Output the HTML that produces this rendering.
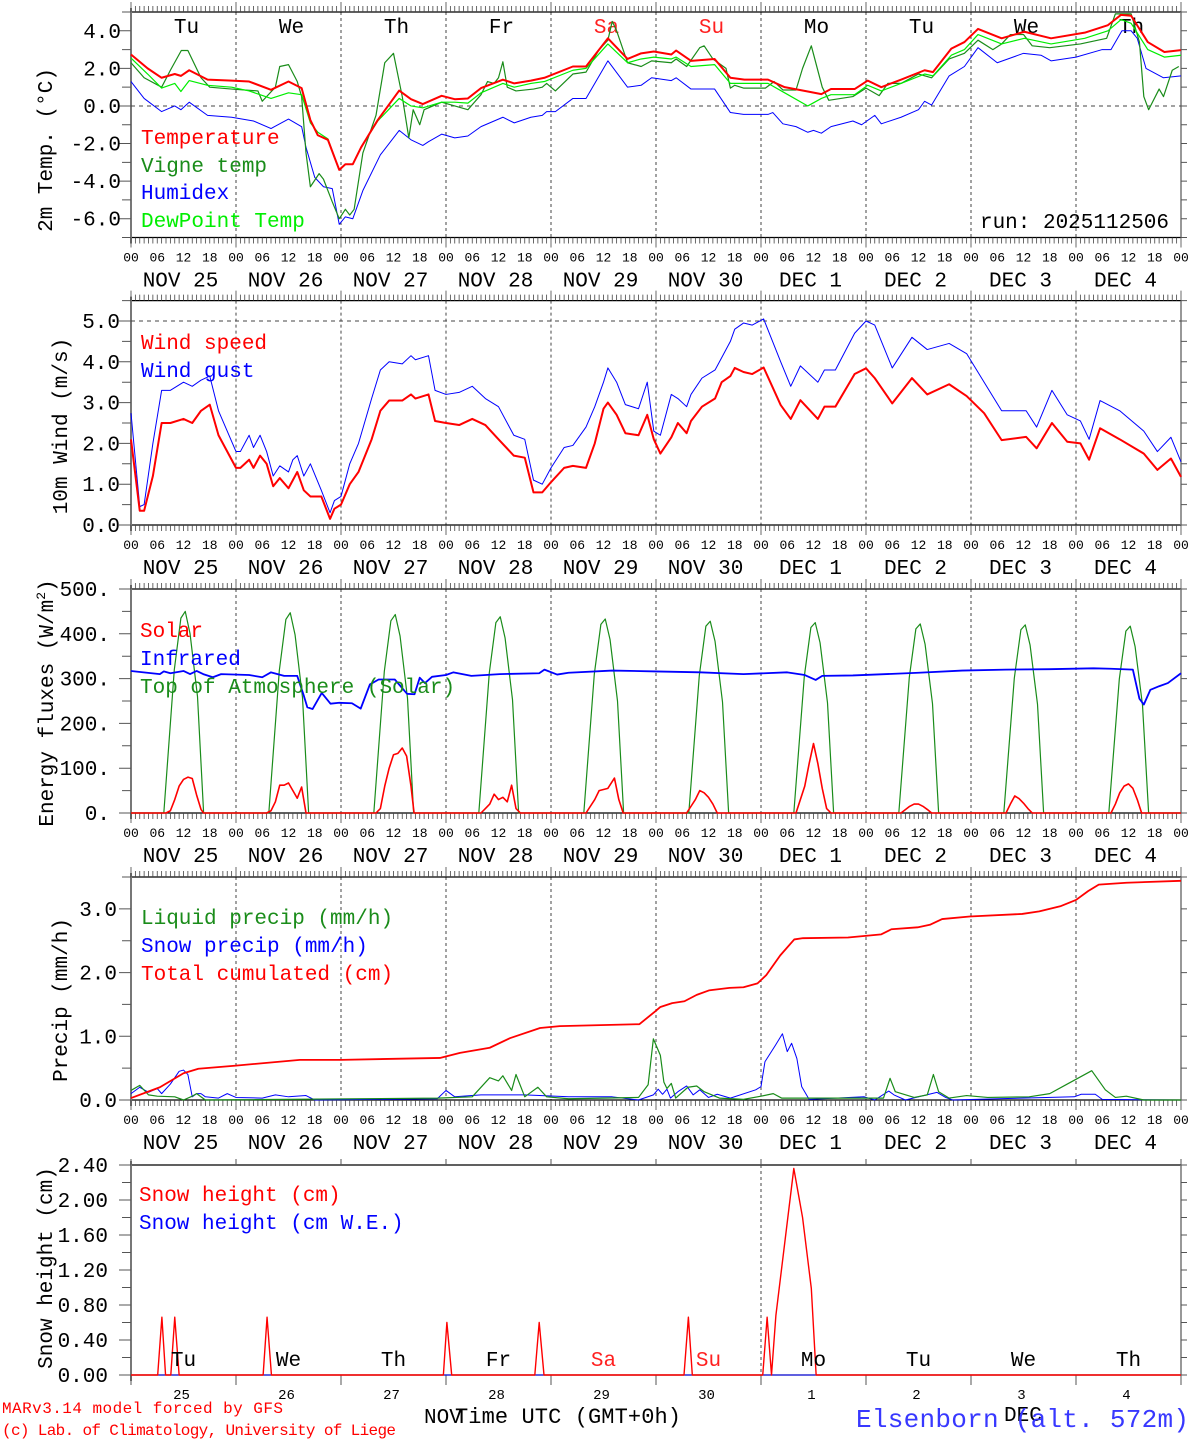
<!DOCTYPE html>
<html>
<head>
<meta charset="utf-8">
<style>
html,body{margin:0;padding:0;background:#fff;}
svg{display:block;}
text{font-family:"Liberation Mono","DejaVu Sans Mono",monospace;}
</style>
</head>
<body>
<svg id="chart" xmlns="http://www.w3.org/2000/svg" width="1194" height="1440" viewBox="0 0 1194 1440">
<rect x="0" y="0" width="1194" height="1440" fill="#fff"/>
</svg>
<script>
// ---------- data (hours since NOV 25 00 UTC) ----------
const dayLabels = ["NOV 25","NOV 26","NOV 27","NOV 28","NOV 29","NOV 30","DEC  1","DEC  2","DEC  3","DEC  4"];
const dayNames = ["Tu","We","Th","Fr","Sa","Su","Mo","Tu","We","Th"];
const dayNums = ["25","26","27","28","29","30","1","2","3","4"];

const tempHours = [0,3.8,7,10,11.4,13.3,17.5,23,27,32,36,39,41,42.7,45,47.6,49,50.7,52.6,56.4,61.3,64,66.7,71,74,77,80,85,87.6,91.4,94.5,101,104,109,113.5,116.6,119.5,123.5,124.6,128,133.4,137,140.2,145.6,149.4,154.7,157.8,160,165.4,168.4,171.5,176,181.4,183.3,187.5,190.5,193.6,199,204.2,210.3,218,223.3,226.3,228.6,232.4,236.2,240];
const tempVals = [2.74,2.0,1.5,1.7,1.6,1.9,1.4,1.35,1.3,0.86,1.3,0.95,-0.75,-1.56,-1.8,-3.4,-3.1,-3.1,-2.2,-0.75,0.82,0.36,0.1,0.54,0.36,0.4,0.95,1.4,1.2,1.35,1.5,2.1,2.1,3.6,2.5,2.8,2.9,2.74,2.95,2.4,2.5,1.5,1.4,1.4,1.0,0.77,0.63,0.9,0.9,1.35,1.0,1.4,1.9,1.8,3.05,3.4,4.1,3.6,3.95,3.6,3.9,4.3,4.85,4.8,3.4,2.87,2.97];
const dewVals = [2.55,1.7,0.95,1.2,0.77,1.35,1.1,1.0,0.8,0.4,0.7,0.6,-0.9,-1.4,-1.75,-3.4,-3.1,-3.1,-2.2,-0.8,0.4,0.0,-0.1,0.2,0.2,0.15,0.7,1.2,1.0,1.2,1.3,1.9,2.0,3.3,2.3,2.5,2.6,2.5,2.6,2.1,2.2,1.2,1.2,1.2,0.7,0.0,0.4,0.6,0.6,1.1,0.8,1.2,1.7,1.6,2.7,3.0,3.8,3.3,3.6,3.3,3.6,4.0,4.6,4.4,3.0,2.6,2.7];
const vigneHours = [0,3,7,9,11.5,13,16,18,23,29,30,33,34,36,38,39,40,41,43,44,46,47.6,49,50,51,53,56,58,60,62,63.5,64.5,66,67,71,74,77,80,81.5,83,84,85,86,88,92,94,95,97,101,104,107,109,110,111,113.5,116.6,119,123.5,124.6,127,130,131,133,136,137,138,140,145,147,149,152,153.5,155.5,158,159.5,165,168,171,173,176,180,183,187,190.5,193.6,197,199,201,204,206,210,217,223,225,228.6,230.5,231.5,232.6,235,236,238,239.5];
const vigneVals = [2.3,1.5,1.0,1.9,2.95,2.95,1.5,1.0,0.9,0.8,0.25,1.0,2.1,2.2,1.3,0.5,-2.5,-4.3,-3.6,-3.9,-5.1,-6.0,-5.5,-5.8,-5.5,-2.5,-0.5,2.3,2.8,0.5,-1.7,-0.2,-1.0,-0.2,0.2,0.0,-0.2,0.6,1.3,1.2,1.5,2.35,1.0,0.8,0.9,1.0,1.2,0.8,1.7,1.8,3.0,3.5,4.5,4.0,2.3,2.1,2.4,2.3,2.5,2.1,3.1,3.2,2.5,2.0,0.95,1.1,0.95,0.95,1.3,0.85,0.85,2.0,3.2,1.0,0.3,0.5,0.95,0.55,1.2,1.2,1.7,1.5,2.5,2.8,3.5,3.0,3.3,3.8,3.8,3.2,3.1,3.3,3.6,4.9,4.9,3.4,0.5,-0.2,0.9,0.5,1.9,2.1];
const humHours = [0,3,7,10,11.4,13.3,17.5,23,28,32,36,39,40,42,44,46,47.6,49,50.7,53,57,61.3,64,66.7,68,71,74,77,80,85,87.6,91.4,94,95,97,101,104,109,113.5,116.6,119,123.5,124.6,128,131,133.4,137,140,145.6,146.7,149,152,154.7,156,157.8,160,165,167,170,171.5,176,180,181.4,183,187,190.5,193.6,198,204,208,210.3,216,222,224,226.5,228.6,230,232,236,240];
const humVals = [1.3,0.4,-0.3,0.0,-0.2,0.2,-0.5,-0.6,-0.8,-1.2,-0.7,-1.1,-2.2,-3.8,-4.3,-4.4,-6.3,-5.9,-6.0,-4.5,-2.6,-1.3,-1.8,-2.1,-1.9,-1.5,-1.7,-1.6,-1.1,-0.6,-0.9,-0.6,-0.5,-0.3,-0.3,0.4,0.4,2.4,1.0,1.1,1.5,1.35,1.5,0.9,0.9,0.9,-0.35,-0.45,-0.45,-0.35,-0.95,-1.1,-1.4,-1.3,-1.45,-1.1,-0.8,-1.0,-0.5,-0.95,-0.6,-0.2,0.25,0.05,1.6,2.1,3.1,2.3,2.8,2.7,2.4,2.6,3.0,3.0,4.0,4.0,3.6,2.0,1.5,1.6];

const windHours = [0,2,3,5,7,9,12,14,16,18,20,24,25,27,28,29.5,31,32.5,34,36,37,38,39.5,41,43.5,45.5,46.5,48,50,52,55,57,59,62,64,65,68,69.5,72,75,78,81,84,87.5,90,92,94,96,99,101,104,106,108,109,111,113,116,118,119.5,121,123.5,125,127,128,130.5,133.5,135,137,138,140,142,144.6,148.5,150.8,153,157,158.5,161,165.4,168,170,174,178.5,182,187,191,195,199,204.6,207,210.5,214,217,219,221.5,226,231.5,234.6,237.7,240];
const windSpeed = [2.1,0.35,0.35,1.2,2.5,2.5,2.6,2.5,2.8,2.95,2.2,1.4,1.4,1.6,1.4,1.7,1.5,0.95,1.15,0.9,1.1,1.3,0.85,0.7,0.7,0.15,0.4,0.5,1.0,1.3,2.1,2.8,3.05,3.05,3.2,3.1,3.2,2.55,2.5,2.45,2.6,2.45,2.1,1.7,1.65,0.8,0.8,1.05,1.4,1.45,1.4,2.0,2.85,3.0,2.7,2.25,2.2,2.7,2.1,1.75,2.15,2.5,2.25,2.55,2.9,3.1,3.5,3.65,3.85,3.75,3.7,3.86,2.94,2.6,3.06,2.6,2.9,2.9,3.7,3.84,3.6,2.98,3.6,3.2,3.45,3.16,2.74,2.08,2.16,1.88,2.5,2.04,2.0,1.6,2.37,2.1,1.75,1.35,1.63,1.18];
const windGust = [2.74,0.45,0.5,2.0,3.3,3.3,3.5,3.4,3.55,3.65,2.8,1.8,1.8,2.2,1.9,2.2,1.8,1.2,1.45,1.3,1.6,1.7,1.2,1.5,0.85,0.3,0.6,0.7,1.5,2.0,3.1,3.8,4.0,3.95,4.15,4.05,4.15,3.3,3.2,3.25,3.4,3.1,2.9,2.2,2.1,1.1,1.0,1.4,1.9,1.95,2.4,2.9,3.5,3.85,3.5,2.95,2.85,3.5,2.3,2.2,3.2,3.1,2.9,3.2,3.6,3.8,4.1,4.5,4.8,4.95,4.9,5.05,4.0,3.4,3.9,3.5,3.8,3.8,4.7,5.0,4.9,3.85,4.6,4.3,4.45,4.2,3.5,2.8,2.8,2.4,3.3,2.7,2.55,2.1,3.05,2.8,2.3,1.8,2.15,1.55];

const solarHours = [0,8,9,10,11,12,13,14,15,16,16.6,31,32,33,34,35,36,37,38,39,40,56,57,58,59,60,61,62,63,64,64.7,80,81,82,83,84,85,86,87,88,89,104,106,107,109,110.5,111.5,112.5,127,129,130,131,132,133,134,152,154,155,156,157,158,159,160,176,178,179,180,181,182,183,200,201,202,203,204,205,206,224,225,226,227,228,229,230,231,240];
const solarVals = [0,0,5,30,60,75,80,77,40,8,0,0,5,25,62,62,67,50,33,58,0,0,10,60,100,130,133,145,127,60,0,0,10,20,42,30,35,25,62,10,0,0,30,50,55,78,30,0,0,30,50,45,35,20,0,0,60,110,155,110,55,10,0,0,15,20,20,15,8,0,0,20,38,32,22,10,0,0,20,45,60,65,55,30,0,0];
const irHours = [0,6.6,7.5,9,12,13.5,15,16.5,18.7,20.6,27,30,32,35,38,39.4,40.3,41.5,43.6,45.6,47.6,50.5,52.5,54.6,56.6,60.3,63.1,64.8,66,67.2,68.8,72,73.7,77.8,84.3,93.3,94.5,97.4,100,110,120,130,140,150,154,156.5,158,165,170,180,190,200,210,220,224,229,230.5,231.5,233,235,237,240];
const irVals = [317,310,316,312,317,310,317,310,303,310,308,303,314,306,306,265,236,232,268,244,246,245,233,287,298,298,266,265,302,290,304,308,314,306,310,312,320,309,313,318,316,314,310,314,308,297,306,307,309,313,318,320,321,323,322,320,255,242,275,283,290,312];
const toaHours = [0,7.5,9.9,11.4,12.4,13.5,15.2,16.6,31.5,33.9,35.4,36.4,37.5,39.2,40.6,55.5,57.9,59.4,60.4,61.5,63.2,64.6,79.5,81.9,83.4,84.4,85.5,87.2,88.6,103.5,105.9,107.4,108.4,109.5,111.2,112.6,127.5,129.9,131.4,132.4,133.5,135.2,136.6,151.5,153.9,155.4,156.4,157.5,159.2,160.6,175.5,177.9,179.4,180.4,181.5,183.2,184.6,199.5,201.9,203.4,204.4,205.5,207.2,208.6,223.5,225.9,227.4,228.4,229.5,231.2,232.6,240];
const toaVals = [0,0,320,435,450,400,260,0,0,318,432,447,398,258,0,0,316,429,443,395,256,0,0,313,425,438,391,253,0,0,310,421,433,387,250,0,0,307,417,428,383,248,0,0,305,414,425,380,246,0,0,303,411,422,377,244,0,0,301,409,420,375,243,0,0,299,406,417,372,241,0,0];

const liqHours = [0,2,4,6,10,12,14,15,17,70,78,82,84,85,87,88,90,93,95,100,116,118.2,119.4,121,121.8,122.5,123.5,124.5,127.3,129.3,131,134.5,140,144,146.8,148.7,172,173.5,174.7,179,182,183.4,184.6,187,191,195.8,205.3,210,214,219.6,222.7,225,227.5,231.5,240];
const liqVals = [0.15,0.23,0.08,0.06,0.05,0.0,0.06,0.1,0.0,0.03,0.05,0.35,0.3,0.38,0.15,0.4,0.05,0.2,0.05,0.02,0.04,0.24,0.96,0.7,0.28,0.18,0.26,0.03,0.2,0.22,0.13,0.03,0.01,0.06,0.1,0.03,0.03,0.34,0.13,0.04,0.08,0.4,0.13,0.03,0.07,0.04,0.05,0.1,0.25,0.46,0.16,0.04,0.06,0.0,0.0];
const snowPHours = [0,2,4,6,7,9,11,12,13,14,15,16,17,20,22,24,30,33,36,40,42,70,72,74,80,90,100,110,116,119.4,120.5,121.5,122.5,123.3,125,127,128.5,130,132,134,137,142.8,144,144.9,147.3,148.9,150,151,152.2,153.3,155,167.6,170,173.2,174.4,177,184.2,186.2,187.8,209.2,215.6,217.2,220.4,222,240];
const snowPVals = [0.1,0.2,0.12,0.18,0.1,0.25,0.45,0.47,0.4,0.05,0.1,0.1,0.05,0.03,0.1,0.04,0.03,0.08,0.05,0.07,0.0,0.02,0.15,0.05,0.08,0.08,0.05,0.05,0.0,0.08,0.17,0.09,0.17,0.03,0.13,0.22,0.08,0.16,0.04,0.09,0.03,0.16,0.21,0.6,0.86,1.04,0.76,0.89,0.65,0.21,0.01,0.05,0.0,0.14,0.08,0.0,0.12,0.04,0.0,0.04,0.05,0.09,0.09,0.01,0.0];
const cumHours = [0,6.6,12,15.4,24,38.6,48,70.6,75.2,82,86.6,93.5,98,116.2,119.8,121,123.7,126.5,129.3,132.1,136.8,140,143.2,145.2,148.4,151.6,153.6,163.9,171.5,173.8,179.8,182.6,185.4,191.7,203.7,207.6,212.4,216,218.8,221.2,227.5,240];
const cumVals = [0.03,0.2,0.42,0.49,0.54,0.63,0.63,0.66,0.74,0.82,0.97,1.13,1.16,1.19,1.39,1.46,1.52,1.55,1.65,1.72,1.76,1.77,1.83,1.96,2.27,2.52,2.54,2.55,2.6,2.68,2.71,2.75,2.84,2.88,2.92,2.96,3.04,3.14,3.28,3.38,3.41,3.44];

const snowHours = [0,6.1,7.06,7.9,9.1,10,11,30.2,31.1,32.1,71.4,72.2,73.3,92.3,93.3,94.4,126.4,127.4,128.3,144.4,145.4,146.4,147.4,151.5,153.5,155.5,156.6,240];
const snowVals = [0,0,0.66,0,0,0.66,0,0,0.66,0,0,0.6,0,0,0.6,0,0,0.66,0,0,0.66,0,0.68,2.36,1.8,0.99,0,0];
const snowWEVals = [0,0,0,0,0,0,0,0,0,0,0,0,0,0,0,0,0,0,0,0,0,0,0,0,0,0,0,0];

const p1Ticks = [-6,-4,-2,0,2,4];
const p1TickLabels = ["-6.0","-4.0","-2.0","0.0","2.0","4.0"];
const p2Ticks = [0,1,2,3,4,5];
const p2TickLabels = ["0.0","1.0","2.0","3.0","4.0","5.0"];
const p3Ticks = [0,100,200,300,400,500];
const p3TickLabels = ["0.","100.","200.","300.","400.","500."];
const p4Ticks = [0,1,2,3];
const p4TickLabels = ["0.0","1.0","2.0","3.0"];
const p5Ticks = [0,0.4,0.8,1.2,1.6,2.0,2.4];
const p5TickLabels = ["0.00","0.40","0.80","1.20","1.60","2.00","2.40"];

// ---------- drawing ----------
const NS = "http://www.w3.org/2000/svg";
const svg = document.getElementById("chart");
const X0 = 131, X1 = 1181, HOURS = 240;
function xs(h){ return X0 + h * (X1 - X0) / HOURS; }
function ysc(p, v){ return p.bot - (v - p.min) / (p.max - p.min) * (p.bot - p.top); }

function mk(tag, attrs, name){
  const el = document.createElementNS(NS, tag);
  for (const k in attrs) el.setAttribute(k, attrs[k]);
  
  
  svg.appendChild(el);
  return el;
}
function txt(x, y, s, size, color, anchor, name, extra){
  const a = {x:x, y:y, 'font-size':size, fill:color, 'text-anchor':anchor||'start'};
  if (extra) for (const k in extra) a[k] = extra[k];
  const el = mk('text', a, name);
  el.textContent = s;
  return el;
}
function series(p, hours, vals, color, w, name){
  let d = '';
  for (let i = 0; i < hours.length; i++){
    d += (i ? 'L' : 'M') + xs(hours[i]).toFixed(2) + ',' + ysc(p, vals[i]).toFixed(2);
  }
  mk('path', {d:d, fill:'none', stroke:color, 'stroke-width':w, 'stroke-linejoin':'round'}, name);
}

function frame(p, ticks, labels, minorStep, labelRight, full){
  if (full){
    let d = '';
    for (let k = 1; k < 10; k++) d += 'M' + xs(24*k) + ',' + p.top + 'V' + p.bot;
    mk('path', {d:d, stroke:'#444', 'stroke-width':1, 'stroke-dasharray':'3,3', fill:'none'}, 'day-gridlines');
  }
  mk('line', {x1:X0, y1:p.top, x2:X1, y2:p.top, stroke:'#000', 'stroke-width':1.2}, 'top-axis');
  mk('line', {x1:X0, y1:p.bot, x2:X1, y2:p.bot, stroke:'#000', 'stroke-width':1.2}, 'x-axis');
  mk('line', {x1:X0, y1:p.top-4, x2:X0, y2:p.bot+6, stroke:'#777', 'stroke-width':2}, 'y-axis');
  mk('line', {x1:X1, y1:p.top, x2:X1, y2:p.bot, stroke:'#777', 'stroke-width':1.5}, 'right-axis');
  let d = '';
  for (let v = p.min; v <= p.max + 1e-9; v += minorStep){
    const y = ysc(p, v);
    d += 'M' + (X0-9) + ',' + y + 'H' + X0 + 'M' + X1 + ',' + y + 'H' + (X1+6);
  }
  for (const v of ticks){ const y = ysc(p, v); d += 'M' + (X0-12) + ',' + y + 'H' + X0; }
  mk('path', {d:d, stroke:'#555', 'stroke-width':1, fill:'none'}, 'y-ticks');
  for (let i = 0; i < ticks.length; i++){
    txt(labelRight, ysc(p, ticks[i]) + 7, labels[i], 21, '#000', 'end', 'y-tick-label');
  }
  if (full){
    let dt = '';
    for (let h = 0; h <= 240; h++){
      const x = xs(h);
      const L = (h % 24 === 0) ? 10 : 6;
      dt += 'M' + x + ',' + (p.top - L) + 'V' + p.top + 'M' + x + ',' + p.bot + 'V' + (p.bot + L);
    }
    mk('path', {d:dt, stroke:'#444', 'stroke-width':0.8, fill:'none'}, 'x-ticks');
    for (let h = 0; h <= 240; h += 6){
      const hh = h % 24;
      txt(xs(h), p.bot + 24, (hh < 10 ? '0' : '') + hh, 13, '#000', 'middle', 'x-tick-label');
    }
    for (let k = 0; k < 10; k++){
      txt(xs(24*k + 12) - 3, p.bot + 49, dayLabels[k], 21, '#000', 'middle', 'date-label', {'xml:space':'preserve'});
    }
  }
}

const P1 = {top:12, bot:237.5, min:-7, max:5};
const P2 = {top:300.6, bot:525, min:0, max:5.5};
const P3 = {top:589, bot:813, min:0, max:500};
const P4 = {top:877, bot:1100, min:0, max:3.5};
const P5 = {top:1165, bot:1375, min:0, max:2.4};

// Panel 1
frame(P1, p1Ticks, p1TickLabels, 1, 121, true);
mk('line', {x1:X0, y1:ysc(P1,0), x2:X1, y2:ysc(P1,0), stroke:'#444', 'stroke-dasharray':'4,4'}, 'zero-line');
for (let k = 0; k < 10; k++){
  txt(xs(24*k+12) + 3, 33, dayNames[k], 21, (k===4||k===5) ? '#ff2020' : '#000', 'middle', 'weekday-label');
}
series(P1, humHours, humVals, '#0000ff', 1, 'humidex-line');
series(P1, vigneHours, vigneVals, '#1a8c1a', 1.2, 'vigne-temp-line');
series(P1, tempHours, dewVals, '#00ee00', 1.2, 'dewpoint-line');
series(P1, tempHours, tempVals, '#ff0000', 2, 'temperature-line');
txt(141, 144, 'Temperature', 21, '#ff0000', 'start', 'legend-temperature');
txt(141, 172, 'Vigne temp', 21, '#1a8c1a', 'start', 'legend-vigne-temp');
txt(141, 199, 'Humidex', 21, '#0000ff', 'start', 'legend-humidex');
txt(141, 227, 'DewPoint Temp', 21, '#00ee00', 'start', 'legend-dewpoint');
txt(1169, 228, 'run: 2025112506', 21, '#000', 'end', 'run-label');
txt(52, 150, '2m Temp. (\u00B0C)', 21, '#000', 'middle', 'y-axis-title-temp', {transform:'rotate(-90 52 150)'});

// Panel 2
frame(P2, p2Ticks, p2TickLabels, 0.5, 120, true);
mk('line', {x1:X0, y1:ysc(P2,5), x2:X1, y2:ysc(P2,5), stroke:'#444', 'stroke-dasharray':'4,4'}, 'five-ms-line');
series(P2, windHours, windGust, '#0000ff', 1, 'wind-gust-line');
series(P2, windHours, windSpeed, '#ff0000', 2, 'wind-speed-line');
txt(141, 349, 'Wind speed', 21, '#ff0000', 'start', 'legend-wind-speed');
txt(141, 377, 'Wind gust', 21, '#0000ff', 'start', 'legend-wind-gust');
txt(67, 426, '10m Wind (m/s)', 21, '#000', 'middle', 'y-axis-title-wind', {transform:'rotate(-90 67 426)'});

// Panel 3
frame(P3, p3Ticks, p3TickLabels, 50, 110, true);
series(P3, toaHours, toaVals, '#1a8c1a', 1.2, 'toa-solar-line');
series(P3, irHours, irVals, '#0000ff', 1.8, 'infrared-line');
series(P3, solarHours, solarVals, '#ff0000', 1.6, 'solar-line');
txt(140, 637, 'Solar', 21, '#ff0000', 'start', 'legend-solar');
txt(140, 665, 'Infrared', 21, '#0000ff', 'start', 'legend-infrared');
txt(140, 693, 'Top of Atmosphere (Solar)', 21, '#1a8c1a', 'start', 'legend-toa');
const t3 = txt(53, 703, 'Energy fluxes (W/m', 21, '#000', 'middle', 'y-axis-title-flux', {transform:'rotate(-90 53 703)'});
const sup = document.createElementNS(NS, 'tspan');


sup.setAttribute('font-size', '13');
sup.setAttribute('dy', '-8');
sup.textContent = '2';
t3.appendChild(sup);
const cl = document.createElementNS(NS, 'tspan');


cl.setAttribute('dy', '8');
cl.textContent = ')';
t3.appendChild(cl);

// Panel 4
frame(P4, p4Ticks, p4TickLabels, 0.5, 117, true);
series(P4, snowPHours, snowPVals, '#0000ff', 1, 'snow-precip-line');
series(P4, liqHours, liqVals, '#1a8c1a', 1.2, 'liquid-precip-line');
series(P4, cumHours, cumVals, '#ff0000', 1.8, 'cumulated-precip-line');
txt(141, 924, 'Liquid precip (mm/h)', 21, '#1a8c1a', 'start', 'legend-liquid-precip');
txt(141, 952, 'Snow precip (mm/h)', 21, '#0000ff', 'start', 'legend-snow-precip');
txt(141, 980, 'Total cumulated (cm)', 21, '#ff0000', 'start', 'legend-total-cumulated');
txt(67, 1000, 'Precip (mm/h)', 21, '#000', 'middle', 'y-axis-title-precip', {transform:'rotate(-90 67 1000)'});

// Panel 5 (snow)
frame(P5, p5Ticks, p5TickLabels, 0.2, 108, false);
mk('line', {x1:xs(144), y1:P5.top-6, x2:xs(144), y2:P5.bot+12, stroke:'#444', 'stroke-dasharray':'3,3'}, 'dec-gridline');
{
  let d = '';
  for (let k = 0; k <= 10; k++){
    const x = xs(24*k);
    d += 'M' + x + ',' + (P5.top-6) + 'V' + P5.top + 'M' + x + ',' + P5.bot + 'V' + (P5.bot+10);
  }
  mk('path', {d:d, stroke:'#555', 'stroke-width':1, fill:'none'}, 'snow-x-ticks');
}
series(P5, snowHours, snowWEVals, '#0000ff', 1, 'snow-we-line');
series(P5, snowHours, snowVals, '#ff0000', 1.4, 'snow-height-line');
for (let k = 0; k < 10; k++){
  txt(xs(24*k+12), 1366, dayNames[k], 21, (k===4||k===5) ? '#ff2020' : '#000', 'middle', 'snow-weekday-label');
  txt(xs(24*k+12) - 2, 1399, dayNums[k], 14, '#000', 'middle', 'snow-day-number');
}
txt(139, 1201, 'Snow height (cm)', 21, '#ff0000', 'start', 'legend-snow-height');
txt(139, 1229, 'Snow height (cm W.E.)', 21, '#0000ff', 'start', 'legend-snow-we');
txt(52, 1268, 'Snow height (cm)', 21, '#000', 'middle', 'y-axis-title-snow', {transform:'rotate(-90 52 1268)'});

// footer
txt(424, 1423, 'NOV', 21, '#000', 'start', 'month-label-nov');
txt(455, 1423, 'Time UTC (GMT+0h)', 22, '#000', 'start', 'x-axis-title', {textLength:226});
txt(1004, 1421, 'DEC', 21, '#000', 'start', 'month-label-dec');
txt(856, 1427, 'Elsenborn (alt. 572m)', 26, '#3838ff', 'start', 'station-title', {textLength:333});
txt(2, 1413, 'MARv3.14 model forced by GFS', 16, '#ff0000', 'start', 'credit-model', {textLength:281});
txt(2, 1435, '(c) Lab. of Climatology, University of Liege', 16, '#ff0000', 'start', 'credit-lab', {textLength:394});
</script>
</body>
</html>
